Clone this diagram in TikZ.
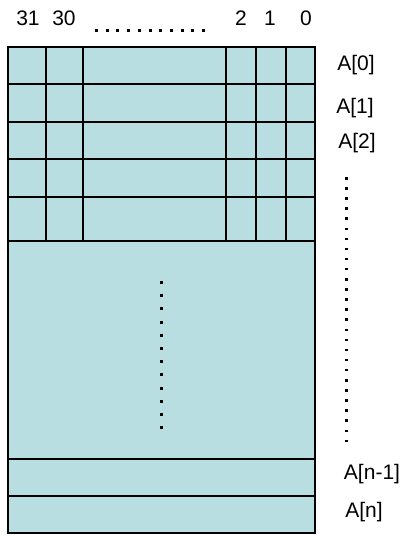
\documentclass[tikz,border=0pt]{standalone}
\usepackage{fontspec}
\setmainfont{Liberation Sans}
\definecolor{cellfill}{HTML}{B9DEE2}
\begin{document}
\begin{tikzpicture}[x=1pt,y=-1pt,
  gridline/.style={draw=black,line width=1.4pt},
  lbl/.style={inner sep=0pt,font=\fontsize{21}{25}\selectfont},
  dotsq/.style={fill=black}]
\useasboundingbox (0,0) rectangle (410,536);
% main box
\fill[cellfill] (8,47) rectangle (315,533);
% row lines
\foreach \y in {84,122,159,197,241,459,496}
  \draw[gridline] (8,\y) -- (315,\y);
% column lines (top rows only)
\foreach \x in {46,83,226,256,286}
  \draw[gridline] (\x,47) -- (\x,241);
\draw[gridline] (8,47) rectangle (315,533);
% top labels
\node[lbl] (b31) at (28,18) {31};
\node[lbl] (b30) at (64,18) {30};
\node[lbl] (b2) at (241,18) {2};
\node[lbl] (b1) at (270,18) {1};
\node[lbl] (b0) at (306,18) {0};
\foreach \i in {0,...,10}
  \fill[dotsq] ({95+\i*10.7},29) rectangle ++(3,3);
% middle vertical dots
\foreach \i in {0,...,11}
  \fill[dotsq] (160,{281+\i*13.2}) rectangle ++(3,3);
% right vertical dots
\foreach \i in {0,...,26}
  \fill[dotsq] (345,{177+\i*10.1}) rectangle ++(3,2.5);
% right labels
\node[lbl] (a0) at (356,65) {A[0]};
\node[lbl] (a1) at (355,108) {A[1]};
\node[lbl] (a2) at (357,143) {A[2]};
\node[lbl] (an1) at (372,474) {A[n-1]};
\node[lbl] (an) at (364,512) {A[n]};
\end{tikzpicture}
\end{document}
